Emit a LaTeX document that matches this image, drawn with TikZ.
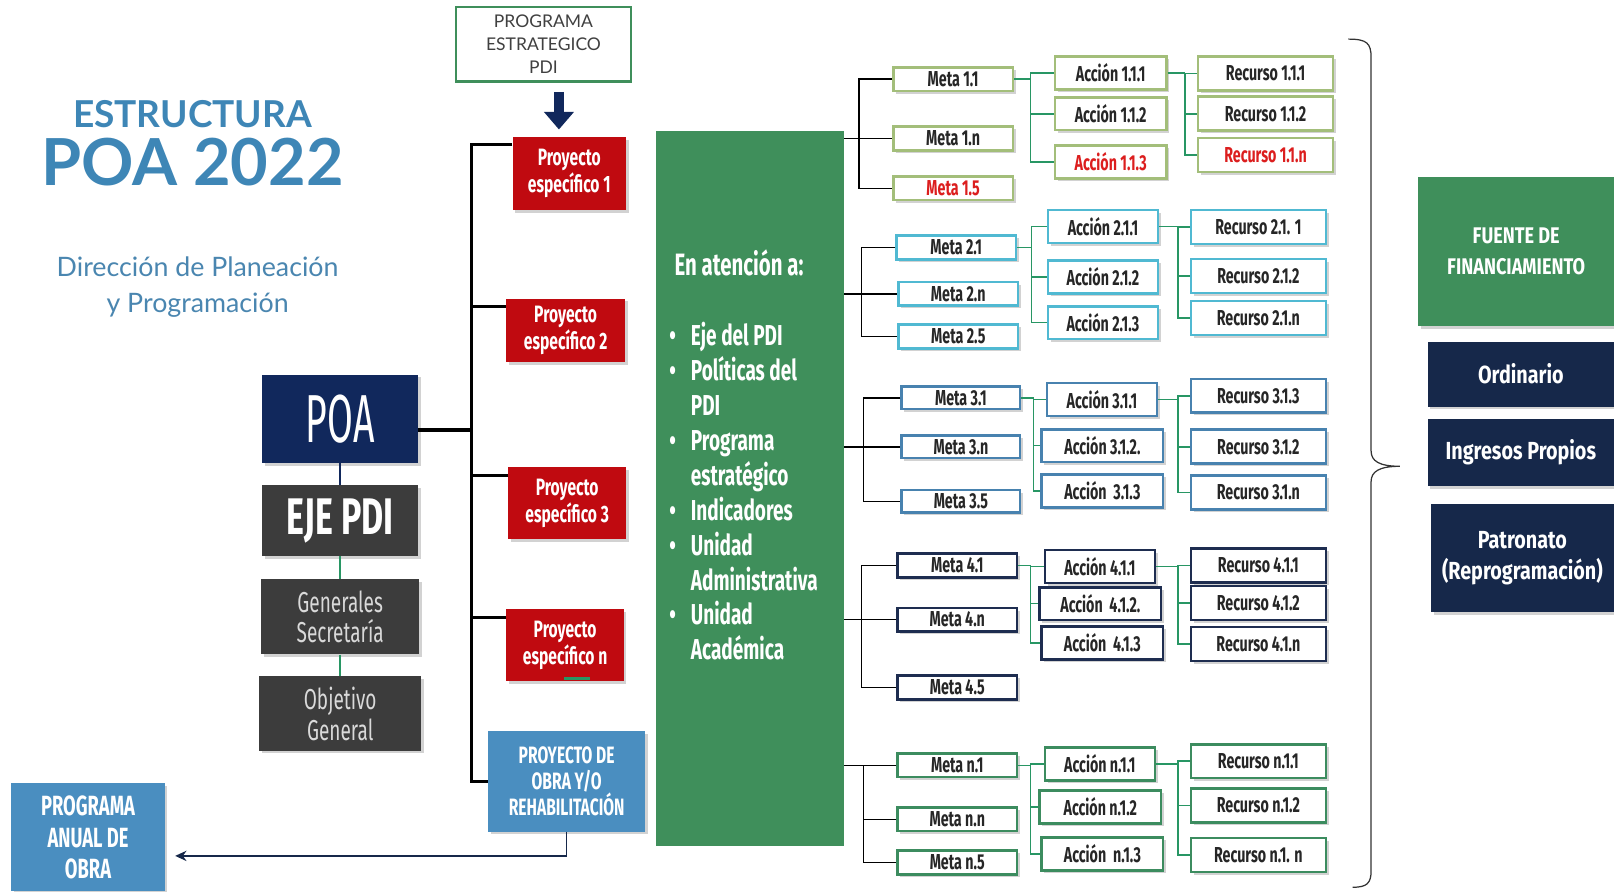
\documentclass[tikz,border=0pt]{standalone}
\usepackage{fontspec}
\setmainfont{Fira Sans}
\newfontfamily\cond[FakeStretch=0.66]{Fira Sans}
\newfontfamily\condw[FakeStretch=0.8]{Fira Sans}
\newfontfamily\condpoa[FakeStretch=0.55]{Fira Sans}
\newfontfamily\gill{Lato}
\usepackage{tikz}
\usetikzlibrary{positioning, shadows, arrows.meta}
\definecolor{azult}{RGB}{62,134,182}
\definecolor{azuls}{RGB}{74,134,176}
\definecolor{rojo}{RGB}{192,10,16}
\definecolor{rojot}{RGB}{220,30,30}
\definecolor{marinop}{RGB}{17,40,92}
\definecolor{grisosc}{RGB}{60,60,60}
\definecolor{azulc}{RGB}{74,142,192}
\definecolor{verdeo}{RGB}{63,143,91}
\definecolor{verdel}{RGB}{40,150,100}
\definecolor{marino}{RGB}{22,40,74}
\definecolor{olivo}{RGB}{163,190,122}
\definecolor{cian}{RGB}{80,185,210}
\definecolor{acero}{RGB}{72,130,175}
\definecolor{marino2}{RGB}{30,45,80}
\definecolor{verdeb}{RGB}{60,140,95}
\tikzstyle{titulo} = [inner sep=0pt, text=azult]
\tikzstyle{caja} = [rectangle, inner sep=0pt, align=center, text=white, drop shadow={opacity=0.35}]
\tikzstyle{estrat} = [rectangle, draw=verdeo, line width=2.5pt, fill=white, minimum width=170pt, minimum height=72pt, align=center, text=black!75, font=\gill\fontsize{17}{22}\selectfont]
\tikzstyle{proyecto} = [caja, fill=rojo, minimum width=113pt, minimum height=70pt, font=\cond\bfseries\fontsize{23}{26}\selectfont]
\tikzstyle{obra} = [caja, fill=azulc, font=\cond\bfseries\fontsize{23}{25.5}\selectfont]
\tikzstyle{grisb} = [caja, fill=grisosc, text=gray!30, minimum width=153pt, font=\cond\fontsize{28}{30}\selectfont]
\tikzstyle{bloque} = [rectangle, fill=verdeo, minimum width=183pt, minimum height=695pt]
\tikzstyle{txtblanco} = [inner sep=0pt, text=white]
\tikzstyle{meta} = [rectangle, fill=white, line width=2.5pt, minimum width=116pt, minimum height=23pt, inner sep=0pt, text=black!85, font=\cond\bfseries\fontsize{21}{21}\selectfont, drop shadow={opacity=0.35}]
\tikzstyle{accion} = [meta, minimum width=108pt, minimum height=32pt, font=\cond\bfseries\fontsize{21}{21}\selectfont]
\tikzstyle{recurso} = [accion, minimum width=131pt, minimum height=33pt]
\tikzstyle{financ} = [caja, fill=marino, font=\condw\bfseries\fontsize{24}{30}\selectfont]
\tikzstyle{rama} = [black, line width=1.5pt]
\tikzstyle{enlace} = [verdel, line width=1.5pt]
\tikzstyle{bus} = [black, line width=3pt]
\tikzstyle{flecha} = [marino, line width=1.5pt, -{Stealth[length=11pt,width=10pt]}, shorten >=10pt]
\tikzstyle{flechona} = [marinop, line width=10pt, -{Triangle[width=28pt,length=17pt]}]
\newcommand{\vineta}{\makebox[21pt][l]{•}}

\begin{document}
\begin{tikzpicture}[x=1pt, y=-1pt]
\fill[white] (0,0) rectangle (1568,866);
\useasboundingbox (0,0) rectangle (1568,866);

% titulo
\node (est) [titulo, font=\gill\bfseries\fontsize{36}{36}\selectfont] at (187,111) {ESTRUCTURA};
\node (poa22) [titulo, font=\gill\bfseries\fontsize{63}{63}\selectfont] at (187,157) {POA 2022};
\node (dir) [titulo, text=azuls, align=center, font=\gill\fontsize{26}{35}\selectfont] at (192,279) {Dirección de Planeación\\y Programación};

% columna izquierda
\node (poa) [caja, fill=marinop, minimum width=151pt, minimum height=86pt, font=\condpoa\fontsize{66}{66}\selectfont] at (330.5,407) {POA};
\node (eje) [caja, fill=grisosc, minimum width=151pt, minimum height=69pt, below=21pt of poa, font=\cond\bfseries\fontsize{50}{50}\selectfont] {EJE PDI};
\node (gen) [grisb, minimum height=73pt, below=22pt of eje] {Generales\\Secretaría};
\node (obj) [grisb, minimum width=157pt, minimum height=72pt, below=21pt of gen] {Objetivo\\General};
\node (pao) [caja, fill=azulc, minimum width=149pt, minimum height=105pt, font=\cond\bfseries\fontsize{27}{30.5}\selectfont] at (85.5,813.5) {PROGRAMA\\ANUAL DE\\OBRA};

\draw[marinop, line width=1.5pt] (poa) -- (eje);
\draw[verdel, line width=1.5pt] (eje) -- (gen);
\draw[verdel, line width=1.5pt] (gen) -- (obj);

% proyectos
\node (pe) [estrat] at (528,43) {PROGRAMA\\ESTRATEGICO\\PDI};
\node (pe1) [proyecto, minimum width=110pt, minimum height=71pt] at (553,168.5) {Proyecto\\específico 1};
\node (pe2) [proyecto, minimum width=115pt, minimum height=62pt] at (549.5,321) {Proyecto\\específico 2};
\node (pe3) [proyecto, minimum width=114pt] at (551,489) {Proyecto\\específico 3};
\node (pen) [proyecto, minimum width=114pt] at (549,627) {Proyecto\\específico n};
\node (pdo) [obra, minimum width=153pt, minimum height=98pt] at (550.5,759) {PROYECTO DE\\OBRA Y/O\\REHABILITACIÓN};

\draw[flechona] ([xshift=15pt,yshift=-9pt]pe.south) -- ([xshift=-10pt,yshift=7pt]pe1.north);
\draw[verdel, line width=2.5pt] ([xshift=-1pt,yshift=3pt]pen.south) -- ++(25,0);
\draw[bus] ([yshift=-8pt]pe1.north west) -- ++(-40,0) coordinate (bx) |- (pdo.west);
\foreach \p in {pe2,pe3,pen}
  \draw[bus] ([yshift=-8pt]\p.north west) -- ([yshift=-8pt]bx |- \p.north west);
\draw[bus, line width=4pt] ([yshift=-11pt]poa.east) -- ([yshift=-11pt]bx |- poa.east);
\draw[flecha] (pdo.south) |- ([yshift=-18pt]pao.east);

% bloque verde
\node (verde) [bloque] at (728.5,474.5) {};
\node (lema) [txtblanco, font=\cond\bfseries\fontsize{30}{30}\selectfont] at (718,255) {En atención a:};
\node (lista) [txtblanco, align=left, anchor=north west, font=\cond\bfseries\fontsize{28}{33.9}\selectfont] at (650,313)
  {\vineta Eje del PDI\\ \vineta Políticas del\\ \hspace*{21pt}PDI\\ \vineta Programa\\ \hspace*{21pt}estratégico\\
   \vineta Indicadores\\ \vineta Unidad\\ \hspace*{21pt}Administrativa\\ \vineta Unidad\\ \hspace*{21pt}Académica};

% grupo 1
\node (m11) [meta, draw=olivo] at (926,77) {Meta 1.1};
\node (m1n) [meta, draw=olivo] at (926,134.5) {Meta 1.n};
\node (m15) [meta, draw=olivo, text=rojot] at (926,183) {Meta 1.5};
\node (a111) [accion, draw=olivo] at (1079,71) {Acción 1.1.1};
\node (a112) [accion, draw=olivo] at (1079,110.5) {Acción 1.1.2};
\node (a113) [accion, draw=olivo, text=rojot] at (1079,157.5) {Acción 1.1.3};
\node (r111) [recurso, draw=olivo] at (1229.5,71.5) {Recurso 1.1.1};
\node (r112) [recurso, draw=olivo] at (1229.5,110.5) {Recurso 1.1.2};
\node (r11n) [recurso, draw=olivo, text=rojot] at (1229.5,150.5) {Recurso 1.1.n};
\draw[rama] (verde.east |- m1n) -- (m1n.west);
\draw[rama] (m11.west) -- ++(-32,0) |- (m15.west);
\draw[enlace] (m11.east) -- ++(16,0) coordinate (b1) (a111.west) -| (b1) |- (a113.west) (b1 |- a112) -- (a112.west);
\draw[enlace] (a111.east) -- ++(17,0) coordinate (c1) (r111.west) -| (c1) |- (r11n.west) (c1 |- r112) -- (r112.west);

% grupo 2
\node (m21) [meta, draw=cian] at (929,240.5) {Meta 2.1};
\node (m2n) [meta, draw=cian] at (931,285.5) {Meta 2.n};
\node (m25) [meta, draw=cian] at (931,327) {Meta 2.5};
\node (a211) [accion, draw=cian, minimum width=107pt] at (1071.5,220) {Acción 2.1.1};
\node (a212) [accion, draw=cian, minimum width=107pt] at (1071.5,269) {Acción 2.1.2};
\node (a213) [accion, draw=cian, minimum width=107pt] at (1071.5,313.5) {Acción 2.1.3};
\node (r211) [recurso, draw=cian] at (1222.5,220.5) {Recurso 2.1. 1};
\node (r212) [recurso, draw=cian] at (1222.5,268) {Recurso 2.1.2};
\node (r21n) [recurso, draw=cian] at (1222.5,309) {Recurso 2.1.n};
\draw[rama] (verde.east |- m2n) -- (m2n.west);
\draw[rama] (m21.west) -- ++(-33,0) |- (m25.west);
\draw[enlace] (m21.east) -- ++(14,0) coordinate (b2) (a211.west) -| (b2) |- (a213.west) (b2 |- a212) -- (a212.west);
\draw[enlace] (a211.east) -- ++(18,0) coordinate (c2) (r211.west) -| (c2) |- (r21n.west) (c2 |- r212) -- (r212.west);

% grupo 3
\node (m31) [meta, draw=acero, minimum width=115pt, minimum height=22pt] at (933.5,386.5) {Meta 3.1};
\node (m3n) [meta, draw=acero, minimum width=115pt, minimum height=22pt] at (933.5,434) {Meta 3.n};
\node (m35) [meta, draw=acero, minimum width=115pt, minimum height=22pt] at (933.5,487) {Meta 3.5};
\node (a311) [accion, draw=acero, minimum width=107pt] at (1070.5,388) {Acción 3.1.1};
\node (a312) [accion, draw=acero, minimum width=118pt] at (1071,433) {Acción 3.1.2.};
\node (a313) [accion, draw=acero, minimum width=118pt] at (1071,477) {Acción\ \ 3.1.3};
\node (r313) [recurso, draw=acero] at (1222.5,384.5) {Recurso 3.1.3};
\node (r312) [recurso, draw=acero] at (1222.5,434) {Recurso 3.1.2};
\node (r31n) [recurso, draw=acero] at (1222.5,478.5) {Recurso 3.1.n};
\draw[rama] (verde.east |- m3n) -- (m3n.west);
\draw[rama] (m31.west) -- ++(-36,0) |- (m35.west);
\draw[enlace] (m31.east) -- ++(12,0) coordinate (b3) (a311.west) -| (b3) |- (a313.west) (b3 |- a312) -- (a312.west);
\draw[enlace] (a311.east) -- ++(19,0) coordinate (c3) (r313.west) -| (c3) |- (r31n.west) (c3 |- r312) -- (r312.west);

% grupo 4
\node (m41) [meta, draw=marino2] at (930,549.5) {Meta 4.1};
\node (m4n) [meta, draw=marino2] at (930,602) {Meta 4.n};
\node (m45) [meta, draw=marino2] at (930,668) {Meta 4.5};
\node (a411) [accion, draw=marino2, minimum width=107pt] at (1068.5,550.5) {Acción 4.1.1};
\node (a412) [accion, draw=marino2, minimum width=118pt] at (1069,586.5) {Acción\ \ 4.1.2.};
\node (a413) [accion, draw=marino2, minimum width=118pt] at (1071,624.5) {Acción\ \ 4.1.3};
\node (r411) [recurso, draw=marino2] at (1222.5,549.5) {Recurso 4.1.1};
\node (r412) [recurso, draw=marino2] at (1222.5,586) {Recurso 4.1.2};
\node (r41n) [recurso, draw=marino2] at (1222.5,625.5) {Recurso 4.1.n};
\draw[rama] (verde.east |- m4n) -- (m4n.west);
\draw[rama] (m41.west) -- ++(-34,0) |- (m45.west);
\draw[enlace] (m41.east) -- ++(12,0) coordinate (b4) (a411.west) -| (b4) |- (a413.west) (b4 |- a412) -- (a412.west);
\draw[enlace] (a411.east) -- ++(21,0) coordinate (c4) (r411.west) -| (c4) |- (r41n.west) (c4 |- r412) -- (r412.west);

% grupo n
\node (mn1) [meta, draw=verdeb] at (930,743.5) {Meta n.1};
\node (mnn) [meta, draw=verdeb] at (930,796) {Meta n.n};
\node (mn5) [meta, draw=verdeb] at (930,838) {Meta n.5};
\node (an11) [accion, draw=verdeb, minimum width=107pt] at (1068.5,742) {Acción n.1.1};
\node (an12) [accion, draw=verdeb, minimum width=118pt] at (1069,784) {Acción n.1.2};
\node (an13) [accion, draw=verdeb, minimum width=118pt] at (1071,829.5) {Acción\ \ n.1.3};
\node (rn11) [recurso, draw=verdeb] at (1222.5,739.5) {Recurso n.1.1};
\node (rn12) [recurso, draw=verdeb] at (1222.5,782.5) {Recurso n.1.2};
\node (rn1n) [recurso, draw=verdeb] at (1222.5,830.5) {Recurso n.1. n};
\draw[rama] (verde.east |- mn1) -- (mn1.west);
\draw[rama] (mn1.west) -- ++(-32,0) |- (mn5.west);
\draw[rama] (mnn.west) -- ++(-32,0);
\draw[enlace] (mn1.east) -- ++(12,0) coordinate (bn) (an11.west) -| (bn) |- (an13.west) (bn |- an12) -- (an12.west);
\draw[enlace] (an11.east) -- ++(21,0) coordinate (cn) (rn11.west) -| (cn) |- (rn1n.west) (cn |- rn12) -- (rn12.west);

% llave
\draw[black!80, line width=1.2pt] (1310,38) .. controls (1328,38) and (1332,42) .. (1332,56) -- (1332,438)
  .. controls (1332,448) and (1340,453) .. (1360,453) .. controls (1340,453) and (1332,458) .. (1332,468)
  -- (1332,846) .. controls (1332,858) and (1328,862) .. (1314,862);

% fuentes de financiamiento
\node (fuente) [financ, fill=verdeo, minimum width=190pt, minimum height=145pt, font=\condw\bfseries\fontsize{22}{30}\selectfont] at (1473,244.5) {FUENTE DE\\FINANCIAMIENTO};
\node (ord) [financ, minimum width=181pt, minimum height=63pt] at (1477.5,363.5) {Ordinario};
\node (ing) [financ, minimum width=181pt, minimum height=65pt] at (1477.5,439.5) {Ingresos Propios};
\node (pat) [financ, minimum width=178pt, minimum height=105pt] at (1479,542.5) {Patronato\\(Reprogramación)};
\end{tikzpicture}
\end{document}
